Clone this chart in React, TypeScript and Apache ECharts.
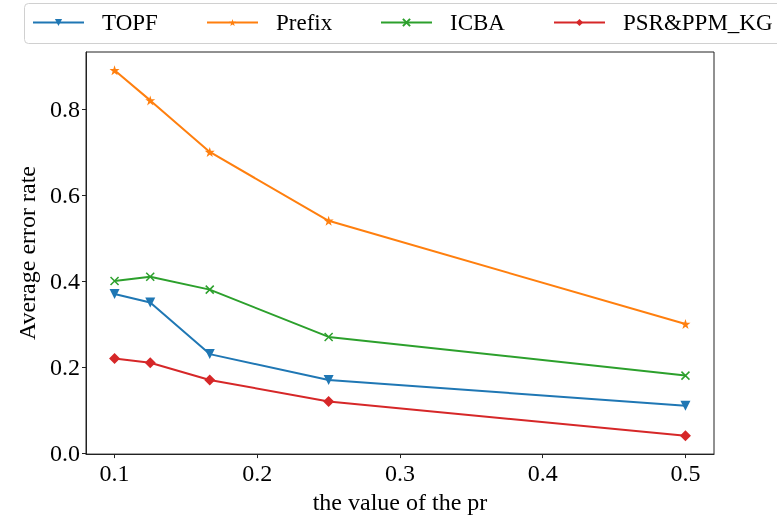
import React, { useEffect, useRef } from "react";
import * as echarts from "echarts";

const xValues = [0.1, 0.125, 0.1667, 0.25, 0.5];
const topf = [0.37, 0.35, 0.23, 0.17, 0.11];
const prefix = [0.89, 0.82, 0.7, 0.54, 0.3];
const icba = [0.4, 0.41, 0.38, 0.27, 0.18];
const psr = [0.22, 0.21, 0.17, 0.12, 0.04];
const xTicks = [0.1, 0.2, 0.3, 0.4, 0.5];
const yTicks = [0, 0.2, 0.4, 0.6, 0.8];
const seriesNames = ["TOPF", "Prefix", "ICBA", "PSR&PPM_KG"];

const FONT = "'Liberation Serif', 'Times New Roman', serif";
const STAR =
  "path://M50,0 L61.8,35.4 L100,35.4 L69.1,57.3 L80.9,93.3 L50,71.4 L19.1,93.3 L30.9,57.3 L0,35.4 L38.2,35.4 Z";
const XMARK = "path://M0,0 L10,10 M10,0 L0,10";

export default function App() {
  const ref = useRef<HTMLDivElement>(null);
  useEffect(() => {
    if (!ref.current) return;
    const chart = echarts.init(ref.current, undefined, {
      renderer: "svg",
      width: 777,
      height: 519,
    });
    const pair = (ys: number[]) => xValues.map((x, i) => [x, ys[i]]);
    const colors = ["#1f77b4", "#ff7f0e", "#2ca02c", "#d62728"];
    const legendLeft = [32, 206, 380, 553];
    const mk = (
      name: string,
      data: number[],
      color: string,
      symbol: string,
      size: number,
      rotate = 0
    ) => ({
      name,
      type: "line",
      data: pair(data),
      color,
      symbol,
      symbolSize: size,
      symbolRotate: rotate,
      showSymbol: true,
      lineStyle: { width: 2, color },
      itemStyle: { color, borderColor: color, borderWidth: symbol === XMARK ? 1.5 : 0 },
    });
    chart.setOption({
      animation: false,
      textStyle: { fontFamily: FONT },
      graphic: [
        {
          type: "rect",
          shape: { x: 24.5, y: 3.5, width: 770, height: 40, r: 4 },
          style: { fill: "rgba(255,255,255,0.8)", stroke: "#d0d0d0", lineWidth: 1 },
          z: -1,
        },
      ],
      legend: seriesNames.map((n, i) => ({
        data: [n],
        left: legendLeft[i],
        top: 10,
        padding: 0,
        itemWidth: 51,
        itemHeight: 9,
        textStyle: {
          fontFamily: FONT,
          fontSize: 23,
          color: "#000",
          padding: [0, 0, 0, 13],
          lineHeight: 25,
        },
      })),
      grid: {
        left: 86,
        right: 63,
        top: 52,
        bottom: 58,
        show: true,
        borderColor: "#222",
        borderWidth: 1,
        containLabel: false,
      },
      xAxis: {
        type: "value",
        min: 0.08,
        max: 0.52,
        name: "the value of the pr",
        nameLocation: "middle",
        nameGap: 32,
        nameTextStyle: { fontFamily: FONT, fontSize: 24, color: "#000" },
        axisLine: { show: true, onZero: false, lineStyle: { color: "#222" } },
        axisTick: { show: true, length: 4, customValues: xTicks, lineStyle: { color: "#222" } },
        axisLabel: {
          customValues: xTicks,
          fontFamily: FONT,
          fontSize: 24,
          color: "#000",
          margin: 7,
          formatter: (v: number) => String(Math.round(v * 10) / 10),
        },
        splitLine: { show: false },
      },
      yAxis: {
        type: "value",
        min: -0.0025,
        max: 0.9325,
        name: "Average error rate",
        nameLocation: "middle",
        nameGap: 45,
        nameTextStyle: { fontFamily: FONT, fontSize: 24, color: "#000" },
        axisLine: { show: true, onZero: false, lineStyle: { color: "#222" } },
        axisTick: { show: true, length: 4, customValues: yTicks, lineStyle: { color: "#222" } },
        axisLabel: {
          customValues: yTicks,
          fontFamily: FONT,
          fontSize: 24,
          color: "#000",
          margin: 6,
          formatter: (v: number) => (Math.round(v * 10) / 10).toFixed(1),
        },
        splitLine: { show: false },
      },
      series: [
        mk("TOPF", topf, colors[0], "triangle", 10, 180),
        mk("Prefix", prefix, colors[1], STAR, 10),
        mk("ICBA", icba, colors[2], XMARK, 8),
        mk("PSR&PPM_KG", psr, colors[3], "diamond", 11),
      ],
    });
    return () => chart.dispose();
  }, []);
  return (
    <div
      ref={ref}
      style={{ position: "fixed", left: 0, top: 0, width: 777, height: 519 }}
    />
  );
}
